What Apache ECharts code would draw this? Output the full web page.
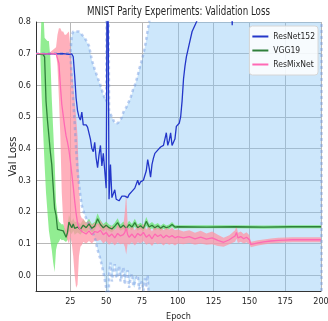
<!DOCTYPE html>
<html>
<head>
<meta charset="utf-8">
<script src="https://cdn.jsdelivr.net/npm/echarts@6/dist/echarts.min.js"></script>
<style>html,body{margin:0;padding:0;background:#fff}#main{width:328px;height:321px}</style>
</head>
<body>
<div id="main"></div>
<script>
// ResNet152 mean val loss
var resEpochs = [1,5,10,15,20,24,26,27,28,29,30,31,32,33,34,35,36,37,38,39,40,41,42,43,44,45,46,47,48,49,50,51,52,53,54,55,56,57,58,59,60,61,62,63,64,65,66,67,68,69,70,71,72,73,74,75,76,77,78,79,80,81,82,83,84,85,86,87,88,89,90,91,92,93,94,95,96,97,98,99,100,101,102,103,104,105,106,108,110,112,114,118,125,130,136,137,138,139,140,150,175,200];
var resMean = [0.700,0.698,0.700,0.699,0.700,0.698,0.699,0.690,0.630,0.560,0.520,0.500,0.490,0.515,0.475,0.470,0.475,0.468,0.470,0.430,0.400,0.390,0.420,0.370,0.340,0.380,0.410,0.345,0.385,0.330,0.275,1.200,0.240,0.350,0.245,0.250,0.270,0.240,0.245,0.235,0.240,0.250,0.245,0.250,0.245,0.245,0.255,0.260,0.265,0.260,0.275,0.280,0.300,0.285,0.295,0.290,0.300,0.315,0.330,0.365,0.340,0.310,0.350,0.370,0.385,0.380,0.395,0.400,0.405,0.400,0.410,0.430,0.450,0.410,0.425,0.450,0.410,0.420,0.430,0.470,0.475,0.480,0.500,0.550,0.620,0.660,0.690,0.730,0.770,0.790,0.810,0.860,0.920,0.950,0.960,0.900,0.790,0.900,0.970,1.000,1.020,1.030];
// ResNet152 spread
var resBandEpochs = [1,25,26,27,28,29,30,31,32,33,35,38,40,42,44,46,48,50,51,52,53,54,55,56,57,58,59,60,61,62,63,64,65,66,67,68,69,70,71,72,73,74,75,76,77,78,79,80,81,83,90,100,200];
var resLow = [0.700,0.700,0.620,0.550,0.480,0.400,0.330,0.290,0.250,0.220,0.190,0.160,0.140,0.120,0.080,0.050,0.010,-0.040,-0.300,0.000,0.040,-0.020,0.010,0.035,-0.010,0.000,0.030,-0.020,0.000,0.025,-0.030,0.000,0.015,-0.040,-0.010,0.005,-0.035,-0.040,-0.010,0.000,-0.045,-0.030,-0.020,-0.050,-0.010,-0.040,0.000,-0.100,-0.200,-0.350,-0.450,-0.500,-0.550];
var resHigh = [0.700,0.700,0.760,0.770,0.770,0.770,0.770,0.770,0.765,0.760,0.750,0.725,0.680,0.650,0.625,0.600,0.570,0.550,1.600,0.520,0.510,0.500,0.490,0.480,0.480,0.480,0.485,0.490,0.500,0.515,0.520,0.530,0.540,0.550,0.560,0.575,0.590,0.600,0.615,0.630,0.650,0.665,0.680,0.700,0.720,0.745,0.775,0.800,0.830,0.920,1.100,1.300,1.600];

// VGG19
var vggEpochs = [1,4,5,6,7,8,9,10,11,12,13,14,15,16,17,18,19,20,21,22,23,24,25,26,27,28,30,32,34,36,38,40,42,44,46,48,50,52,54,56,58,60,62,64,66,68,70,72,74,76,78,80,82,84,86,88,90,92,94,96,98,100,120,140,160,180,200];
var vggMean = [0.700,0.698,0.700,0.697,0.690,0.550,0.490,0.485,0.390,0.350,0.280,0.210,0.190,0.145,0.140,0.142,0.138,0.140,0.130,0.120,0.135,0.168,0.158,0.150,0.162,0.148,
  0.152,0.145,0.158,0.150,0.162,0.148,0.155,0.178,0.160,0.150,0.158,0.150,0.146,0.155,0.166,0.150,0.158,0.148,0.160,0.152,0.166,0.150,0.156,0.148,0.170,0.152,0.158,0.150,0.156,0.148,0.155,0.150,0.153,0.160,0.152,0.153,
  0.152,0.153,0.152,0.153,0.153];
var vggLow = [0.700,0.700,0.560,0.450,0.350,0.260,0.200,0.140,0.110,0.080,0.040,0.010,0.080,0.100,0.105,0.115,0.110,0.112,0.108,0.105,0.112,0.140,0.135,0.130,0.140,0.128,
  0.135,0.128,0.140,0.134,0.146,0.134,0.142,0.160,0.146,0.138,0.146,0.140,0.136,0.144,0.152,0.140,0.146,0.138,0.148,0.142,0.154,0.140,0.146,0.138,0.156,0.142,0.148,0.141,0.147,0.140,0.147,0.143,0.146,0.152,0.146,0.148,
  0.148,0.148,0.147,0.148,0.148];
var vggHigh = [0.700,0.700,0.850,0.850,0.750,0.745,0.740,0.740,0.690,0.560,0.460,0.360,0.230,0.190,0.170,0.165,0.160,0.162,0.150,0.140,0.160,0.190,0.180,0.170,0.180,0.168,
  0.170,0.162,0.176,0.166,0.178,0.162,0.168,0.196,0.174,0.162,0.170,0.160,0.156,0.166,0.180,0.160,0.170,0.158,0.172,0.162,0.178,0.160,0.166,0.158,0.184,0.162,0.168,0.159,0.165,0.156,0.163,0.157,0.160,0.168,0.158,0.158,
  0.158,0.158,0.157,0.158,0.158];

// ResMixNet
var mixEpochs = [1,10,15,16,17,18,19,20,21,22,23,24,25,26,27,28,29,30,31,32,33,34,36,38,40,42,44,46,48,50,52,54,56,58,60,62,63,64,65,66,68,70,72,74,76,78,80,82,84,86,88,90,92,94,96,98,100,104,108,112,116,120,124,128,132,134,136,138,140,141,142,144,146,148,150,151,153,156,160,165,170,175,180,190,200];
var mixMean = [0.700,0.699,
  0.700,0.698,0.670,0.600,0.540,0.505,0.470,0.440,0.420,0.395,0.360,0.320,0.280,0.235,0.195,0.165,0.150,0.145,0.138,0.142,
  0.130,0.140,0.128,0.138,0.135,0.142,0.128,0.135,0.122,0.130,0.118,0.132,0.124,0.128,
  0.135,0.150,0.128,0.120,
  0.130,0.118,0.132,0.125,0.135,0.120,0.128,0.115,0.130,0.122,0.128,0.118,0.126,0.120,0.125,0.118,0.122,
  0.118,0.122,0.115,0.120,0.114,0.118,0.110,
  0.104,0.108,0.112,0.118,0.124,0.135,0.118,0.122,0.115,0.120,0.112,0.097,0.099,0.102,0.105,0.108,0.110,0.111,0.112,0.112,0.112];
var mixLow = [0.700,0.699,
  0.700,0.660,0.560,0.440,0.260,0.170,0.140,0.125,0.110,0.100,0.120,0.100,0.060,0.000,-0.040,-0.030,0.060,0.090,0.095,0.105,
  0.100,0.108,0.100,0.110,0.108,0.112,0.100,0.108,0.096,0.104,0.094,0.104,0.098,0.100,
  0.090,0.065,0.100,0.096,
  0.104,0.094,0.104,0.100,0.108,0.096,0.102,0.092,0.104,0.098,0.102,0.094,0.102,0.096,0.100,0.094,0.100,
  0.098,0.102,0.096,0.100,0.096,0.098,0.092,
  0.090,0.094,0.098,0.102,0.106,0.115,0.102,0.106,0.100,0.104,0.098,0.088,0.091,0.094,0.097,0.100,0.102,0.103,0.104,0.104,0.104];
var mixHigh = [0.700,0.701,
  0.720,0.760,0.780,0.780,0.770,0.770,0.760,0.760,0.765,0.770,0.720,0.660,0.600,0.550,0.500,0.440,0.300,0.190,0.180,0.178,
  0.165,0.172,0.158,0.166,0.162,0.172,0.156,0.162,0.148,0.156,0.142,0.160,0.150,0.156,
  0.200,0.260,0.160,0.144,
  0.156,0.142,0.160,0.150,0.162,0.144,0.154,0.138,0.156,0.146,0.154,0.142,0.150,0.144,0.150,0.142,0.144,
  0.138,0.142,0.134,0.140,0.132,0.138,0.128,
  0.118,0.122,0.126,0.134,0.142,0.155,0.134,0.138,0.130,0.136,0.126,0.106,0.107,0.110,0.113,0.116,0.118,0.119,0.120,0.120,0.120];

var xTicks = [25,50,75,100,125,150,175,200];
var yTicks = [0.0,0.1,0.2,0.3,0.4,0.5,0.6,0.7,0.8];
var titleText = 'MNIST Parity Experiments: Validation Loss';

var NARROW = "'DejaVu Sans Condensed', 'Liberation Sans Narrow', 'DejaVu Sans', sans-serif";
var WIDE = "'DejaVu Sans', sans-serif";
var INK = '#262626';
var EDGE = { color: 'rgba(110,150,225,0.45)', width: 2.5, type: [3, 3] };

// title is squeezed sideways to the width it has in the picture
var ctx = document.createElement('canvas').getContext('2d');
ctx.font = "11.5px 'DejaVu Sans'";
var titleScale = 183 / ctx.measureText(titleText).width;

function pairs(xs, ys) {
  return xs.map(function (x, i) { return [x, ys[i]]; });
}

// filled spread between low and high, one polygon through the axis scales
function band(name, xs, low, high, fill) {
  return {
    name: name,
    type: 'custom',
    silent: true,
    clip: true,
    data: xs.map(function (x, i) { return [x, low[i], high[i]]; }),
    encode: { x: 0, y: [1, 2] },
    renderItem: function (params, api) {
      if (params.dataIndexInside !== 0) return null;
      var n = params.dataInsideLength;
      var top = [], bot = [];
      for (var i = 0; i < n; i++) {
        top.push(api.coord([api.value(0, i), api.value(2, i)]));
        bot.push(api.coord([api.value(0, i), api.value(1, i)]));
      }
      var cs = params.coordSys;
      return {
        type: 'polygon',
        shape: { points: top.concat(bot.reverse()) },
        style: { fill: fill },
        clipPath: { type: 'rect', shape: { x: cs.x, y: cs.y, width: cs.width, height: cs.height } }
      };
    }
  };
}

function meanLine(name, xs, ys, color) {
  return {
    name: name, type: 'line', data: pairs(xs, ys), symbol: 'none',
    lineStyle: { color: color, width: 1.3 }, itemStyle: { color: color }
  };
}

var myChart = echarts.init(document.getElementById('main'));
var option = {
  animation: false,
  graphic: [{
    type: 'text', x: 178.5, y: 12, scaleX: titleScale,
    style: { text: titleText, font: "11.5px 'DejaVu Sans'", fill: INK, align: 'center', verticalAlign: 'middle' }
  }],
  legend: {
    data: ['ResNet152', 'VGG19', 'ResMixNet'],
    orient: 'vertical', right: 10, top: 26,
    backgroundColor: 'rgba(255,255,255,0.85)', borderColor: '#d6d6d6', borderWidth: 1, borderRadius: 3,
    padding: [6, 3, 6, 3], icon: 'rect', itemWidth: 16, itemHeight: 2, itemGap: 5,
    textStyle: { fontSize: 8.5, color: INK, fontFamily: NARROW }
  },
  grid: { left: 36, right: 7, top: 22, bottom: 30, containLabel: false, outerBoundsMode: 'none' },
  xAxis: {
    type: 'value', min: 1, max: 200,
    name: 'Epoch', nameLocation: 'middle', nameGap: 21, nameMoveOverlap: false,
    nameTextStyle: { fontSize: 9, color: INK, fontFamily: NARROW },
    axisLine: { show: true, onZero: false, lineStyle: { color: '#333' } },
    axisTick: { show: false, customValues: xTicks },
    axisLabel: { customValues: xTicks, fontSize: 9, color: INK, margin: 6, fontFamily: NARROW },
    splitLine: { show: true, lineStyle: { color: '#b8b8b8', width: 1 } }
  },
  yAxis: {
    type: 'value', min: -0.05, max: 0.8,
    name: 'Val Loss', nameLocation: 'middle', nameGap: 18, nameMoveOverlap: false,
    nameTextStyle: { fontSize: 10, color: INK, fontFamily: WIDE },
    axisLine: { show: true, onZero: false, lineStyle: { color: '#333' } },
    axisTick: { show: false, customValues: yTicks },
    axisLabel: {
      customValues: yTicks, fontSize: 9, color: INK, margin: 5, fontFamily: NARROW,
      formatter: function (v) { return v.toFixed(1); }
    },
    splitLine: { show: true, lineStyle: { color: '#b8b8b8', width: 1 } }
  },
  series: [
    band('res band', resBandEpochs, resLow, resHigh, 'rgba(130,195,245,0.4)'),
    band('vgg band', vggEpochs, vggLow, vggHigh, 'rgba(100,230,100,0.7)'),
    band('mix band', mixEpochs, mixLow, mixHigh, 'rgba(255,150,165,0.75)'),
    { name: 'res low', type: 'line', data: pairs(resBandEpochs, resLow), symbol: 'none', silent: true, lineStyle: EDGE },
    { name: 'res high', type: 'line', data: pairs(resBandEpochs, resHigh), symbol: 'none', silent: true, lineStyle: EDGE,
      markLine: { silent: true, symbol: 'none', label: { show: false }, lineStyle: EDGE,
        data: [{ xAxis: resBandEpochs[resBandEpochs.length - 1] }] } },
    meanLine('ResNet152', resEpochs, resMean, '#2336c9'),
    meanLine('VGG19', vggEpochs, vggMean, '#2f7f3a'),
    meanLine('ResMixNet', mixEpochs, mixMean, '#ff69b4')
  ]
};
myChart.setOption(option);
</script>
</body>
</html>
